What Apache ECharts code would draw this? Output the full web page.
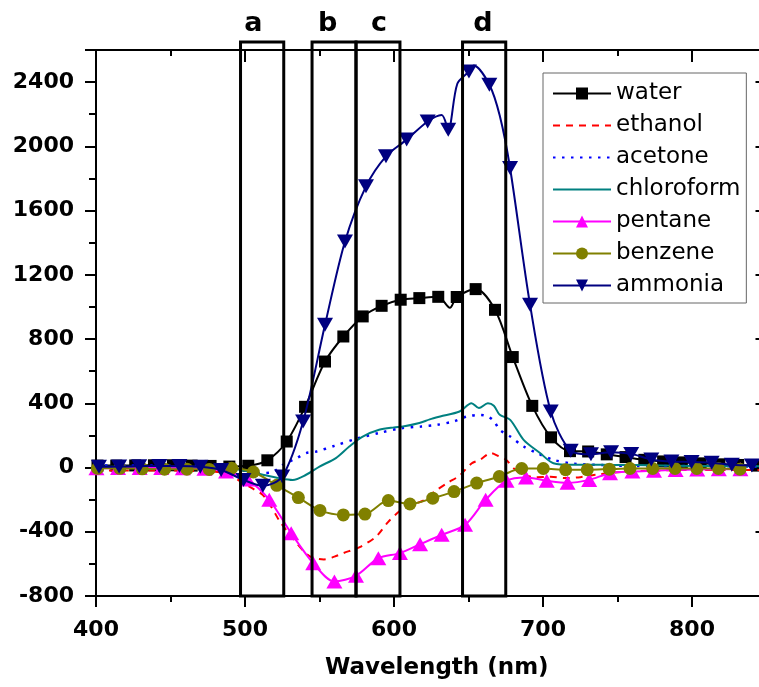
<!DOCTYPE html>
<html>
<head>
<meta charset="utf-8">
<script src="https://cdn.jsdelivr.net/npm/echarts@6/dist/echarts.min.js"></script>
<style>
  html, body { margin: 0; padding: 0; background: #fff; }
  #chart { width: 759px; height: 687px; }
</style>
</head>
<body>
<div id="chart"></div>
<script>
// Axis tick labels
const xTicks = [400, 500, 600, 700, 800];
const yTicks = [-800, -400, 0, 400, 800, 1200, 1600, 2000, 2400];

// Spectral bands a-d (nm) and where their letters sit
const boxNames = ['a', 'b', 'c', 'd'];
const boxFrom = [497, 545, 574.5, 646];
const boxTo = [526, 574.5, 604, 675];
const boxLabelNm = [505.6, 555.4, 589.9, 659.7];

// water (marked points + a few unmarked curve points)
const waterNm = [401, 413.6, 426.3, 438.9, 451.6, 464.2, 476.9, 489.5, 502.2, 515, 528, 540.3, 553.7, 566, 579, 591.7, 604.5, 617, 629.7, 642.1, 654.8, 667.8, 679.7, 692.8, 705.4, 718.1, 730.3, 742.8, 755.4, 768, 780.6, 793.2, 805.8, 818.4, 831, 843.6];
const waterVal = [12, 12, 13, 14, 14, 12, 10, 6, 11, 45, 162, 378, 660, 816, 941, 1007, 1045, 1055, 1063, 1062, 1111, 982, 688, 384, 188, 102, 100, 82, 65, 48, 38, 32, 26, 20, 16, 12];
const waterExtraNm = [637.5];
const waterExtraVal = [995];

// ethanol
const ethanolNm = [400, 420, 440, 460, 480, 490, 497, 505, 512, 518, 523, 532, 543, 553, 560, 566, 577, 588, 596, 604, 612, 620, 628, 636, 644, 652, 658, 665, 670, 675, 681, 688, 695, 705, 715, 725, 735, 750, 770, 800, 845];
const ethanolVal = [-18, -18, -18, -20, -26, -45, -87, -130, -172, -250, -330, -440, -550, -572, -555, -533, -495, -430, -340, -270, -232, -205, -145, -95, -50, 25, 50, 90, 72, 50, -10, -48, -60, -58, -65, -60, -45, -30, -20, -15, -15];

// acetone
const acetoneNm = [400, 420, 440, 460, 480, 490, 500, 510, 518, 526, 535, 541, 548, 560, 575, 590, 605, 618, 629, 640, 649, 658, 663, 667, 671, 678, 687, 696, 707, 720, 740, 760, 800, 845];
const acetoneVal = [12, 12, 12, 12, 10, 2, -20, -35, -30, 20, 60, 90, 100, 135, 180, 215, 245, 255, 266, 287, 318, 328, 318, 290, 235, 193, 131, 90, 48, 25, 15, 10, 10, 5];

// chloroform
const chloroformNm = [400, 420, 440, 460, 480, 490, 500, 512, 523, 532, 541, 550, 561, 570, 579, 590, 600, 606, 617, 624, 631, 644, 652, 657, 663, 667, 671, 678, 687, 698, 707, 720, 740, 760, 800, 845];
const chloroformVal = [5, 5, 5, 5, 4, -4, -20, -45, -66, -77, -45, 6, 59, 131, 193, 235, 250, 255, 277, 300, 318, 349, 401, 370, 400, 385, 328, 297, 172, 90, 27, 17, 18, 15, 10, 8];

// pentane
const pentaneNm = [400.3, 414.8, 429.3, 443.8, 458.3, 472.8, 487.3, 501.8, 516.3, 531, 545.8, 560, 574.5, 589.5, 604, 617.5, 632, 647.7, 661.5, 675.5, 688.6, 702.5, 716.5, 731, 745, 760, 774.5, 789, 803.5, 818, 832.5];
const pentaneVal = [-5, -3, -3, -3, -5, -8, -25, -75, -201, -409, -596, -710, -674, -565, -533, -478, -419, -357, -201, -82, -62, -82, -95, -77, -35, -25, -20, -15, -12, -10, -10];

// benzene
const benzeneNm = [401, 416, 431, 446, 461, 476, 491, 505.6, 521.3, 535.8, 550.3, 566, 580.5, 596.2, 610.7, 626, 640.3, 655.5, 670.7, 685.7, 700.2, 715.2, 729.7, 744.5, 758.4, 773.6, 788.6, 803.2, 817.7, 832.2];
const benzeneVal = [-5, -5, -8, -10, -10, -12, -4, -28, -111, -187, -267, -295, -290, -206, -227, -191, -150, -97, -56, -6, -6, -14, -14, -10, -6, -6, -6, -6, -6, -10];

// ammonia
const ammoniaNm = [402, 415.5, 429, 442.5, 456, 470, 484, 499, 512, 525, 539, 553.7, 567.1, 581.2, 594.6, 608.5, 622.6, 636.4, 650.3, 664, 677.9, 691.3, 705.2, 718.6, 732.2, 745.7, 759.2, 772.7, 786.2, 799.7, 813.2, 826.7, 840.2];
const ammoniaVal = [5, 6, 8, 10, 10, 5, -15, -77, -114, -56, 287, 889, 1408, 1751, 1938, 2042, 2155, 2104, 2466, 2384, 1865, 1014, 349, 105, 82, 95, 85, 50, 37, 35, 30, 17, 12];
const ammoniaExtraNm = [632, 642.5, 653.5, 671];
const ammoniaExtraVal = [2195, 2390, 2503, 2190];

const FONT = 'DejaVu Sans';
const Y_MIN = -800, Y_MAX = 2600, X_MIN = 400, X_MAX = 850;
const BOX_TOP = 2650;

// merge marked and unmarked points into one sorted line
function buildData(nm, val, extraNm, extraVal) {
  const pts = nm.map((x, i) => ({ value: [x, val[i]] }));
  (extraNm || []).forEach((x, i) => pts.push({ value: [x, extraVal[i]], symbol: 'none' }));
  pts.sort((a, b) => a.value[0] - b.value[0]);
  return pts;
}

function lineSeries(name, color, data, opts) {
  return Object.assign({
    name: name,
    type: 'line',
    data: data,
    smooth: 0.3,
    lineStyle: { color: color, width: 2 },
    itemStyle: { color: color },
    emphasis: { disabled: true },
    animation: false
  }, opts);
}

const series = [
  lineSeries('water', '#000000', buildData(waterNm, waterVal, waterExtraNm, waterExtraVal),
    { symbol: 'rect', symbolSize: 12, z: 2 }),
  lineSeries('ethanol', '#FF0000', buildData(ethanolNm, ethanolVal),
    { symbol: 'none', showSymbol: false, lineStyle: { color: '#FF0000', width: 2, type: [7, 6] }, z: 3 }),
  lineSeries('acetone', '#0000FF', buildData(acetoneNm, acetoneVal),
    { symbol: 'none', showSymbol: false, lineStyle: { color: '#0000FF', width: 2.5, type: [2.5, 6.5] }, z: 3 }),
  lineSeries('chloroform', '#008080', buildData(chloroformNm, chloroformVal),
    { symbol: 'none', showSymbol: false, z: 3 }),
  lineSeries('pentane', '#FF00FF', buildData(pentaneNm, pentaneVal),
    { symbol: 'triangle', symbolSize: [16, 14], z: 4 }),
  lineSeries('benzene', '#808000', buildData(benzeneNm, benzeneVal),
    { symbol: 'circle', symbolSize: 13, z: 4 }),
  lineSeries('ammonia', '#000080', buildData(ammoniaNm, ammoniaVal, ammoniaExtraNm, ammoniaExtraVal),
    { symbol: 'triangle', symbolRotate: 180, symbolSize: [16, 14], z: 5 }),
  {
    // band frames with their letters
    type: 'custom',
    clip: false,
    silent: true,
    z: 6,
    animation: false,
    data: boxFrom.map((v, i) => [v, boxTo[i], boxLabelNm[i]]),
    encode: { x: [0, 1, 2] },
    renderItem: function (params, api) {
      const p0 = api.coord([api.value(0), Y_MIN]);
      const p1 = api.coord([api.value(1), BOX_TOP]);
      const lab = api.coord([api.value(2), BOX_TOP]);
      return {
        type: 'group',
        children: [
          {
            type: 'rect',
            shape: { x: p0[0], y: p1[1], width: p1[0] - p0[0], height: p0[1] - p1[1] },
            style: { fill: 'none', stroke: '#000', lineWidth: 3 }
          },
          {
            type: 'text',
            x: lab[0],
            y: p1[1] - 18,
            style: {
              text: boxNames[params.dataIndex],
              font: 'bold 27px "' + FONT + '"',
              fill: '#000',
              align: 'center',
              verticalAlign: 'middle'
            }
          }
        ]
      };
    }
  }
];

const axisLine = { show: true, onZero: false, lineStyle: { color: '#000', width: 2 } };
const tickStyle = { color: '#000', width: 2 };
const labelFont = { color: '#000', fontSize: 22, fontWeight: 'bold', fontFamily: FONT };

const option = {
  animation: false,
  backgroundColor: '#fff',
  // the plot frame runs a little past the right edge of the page
  grid: { left: 96, right: -7.5, top: 50, bottom: 91, containLabel: false, outerBoundsMode: 'none' },
  legend: {
    orient: 'vertical',
    left: 543,
    top: 73,
    padding: [9, 6, 6, 9],
    itemWidth: 58,
    itemHeight: 15,
    itemGap: 9,
    borderColor: '#666',
    borderWidth: 1,
    backgroundColor: '#fff',
    selectedMode: false,
    textStyle: { color: '#000', fontSize: 23, fontFamily: FONT },
    data: [
      { name: 'water' },
      { name: 'ethanol', itemStyle: { opacity: 0 } },
      { name: 'acetone', itemStyle: { opacity: 0 } },
      { name: 'chloroform', itemStyle: { opacity: 0 } },
      { name: 'pentane' },
      { name: 'benzene' },
      { name: 'ammonia' }
    ]
  },
  xAxis: [
    {
      type: 'value', position: 'bottom', min: X_MIN, max: X_MAX, interval: 100,
      axisLine: axisLine,
      axisTick: { show: true, inside: false, length: 11, lineStyle: tickStyle },
      minorTick: { show: true, splitNumber: 2, length: 6, lineStyle: tickStyle },
      axisLabel: Object.assign({ margin: 23, formatter: v => xTicks.includes(v) ? String(v) : '' }, labelFont),
      splitLine: { show: false },
      name: 'Wavelength (nm)', nameLocation: 'middle', nameGap: 61,
      nameTextStyle: { color: '#000', fontSize: 23, fontWeight: 'bold', fontFamily: FONT, padding: [0, 0, 0, 11] }
    },
    {
      type: 'value', position: 'top', min: X_MIN, max: X_MAX, interval: 100,
      axisLine: axisLine,
      axisTick: { show: true, inside: true, length: 12, lineStyle: tickStyle },
      minorTick: { show: true, splitNumber: 2, length: 6, lineStyle: tickStyle },
      axisLabel: { show: false },
      splitLine: { show: false }
    }
  ],
  yAxis: [
    {
      type: 'value', position: 'left', min: Y_MIN, max: Y_MAX, interval: 400,
      axisLine: axisLine,
      axisTick: { show: true, inside: false, length: 11, lineStyle: tickStyle },
      minorTick: { show: true, splitNumber: 2, length: 7, lineStyle: tickStyle },
      axisLabel: Object.assign({ margin: 22, formatter: v => yTicks.includes(v) ? String(v) : '' }, labelFont),
      splitLine: { show: false }
    },
    {
      type: 'value', position: 'right', min: Y_MIN, max: Y_MAX, interval: 400,
      axisLine: axisLine,
      axisTick: { show: true, inside: true, length: 11, lineStyle: tickStyle },
      axisLabel: { show: false },
      splitLine: { show: false }
    }
  ],
  series: series
};

const chart = echarts.init(document.getElementById('chart'), null, { renderer: 'canvas' });
chart.setOption(option);
</script>
</body>
</html>
